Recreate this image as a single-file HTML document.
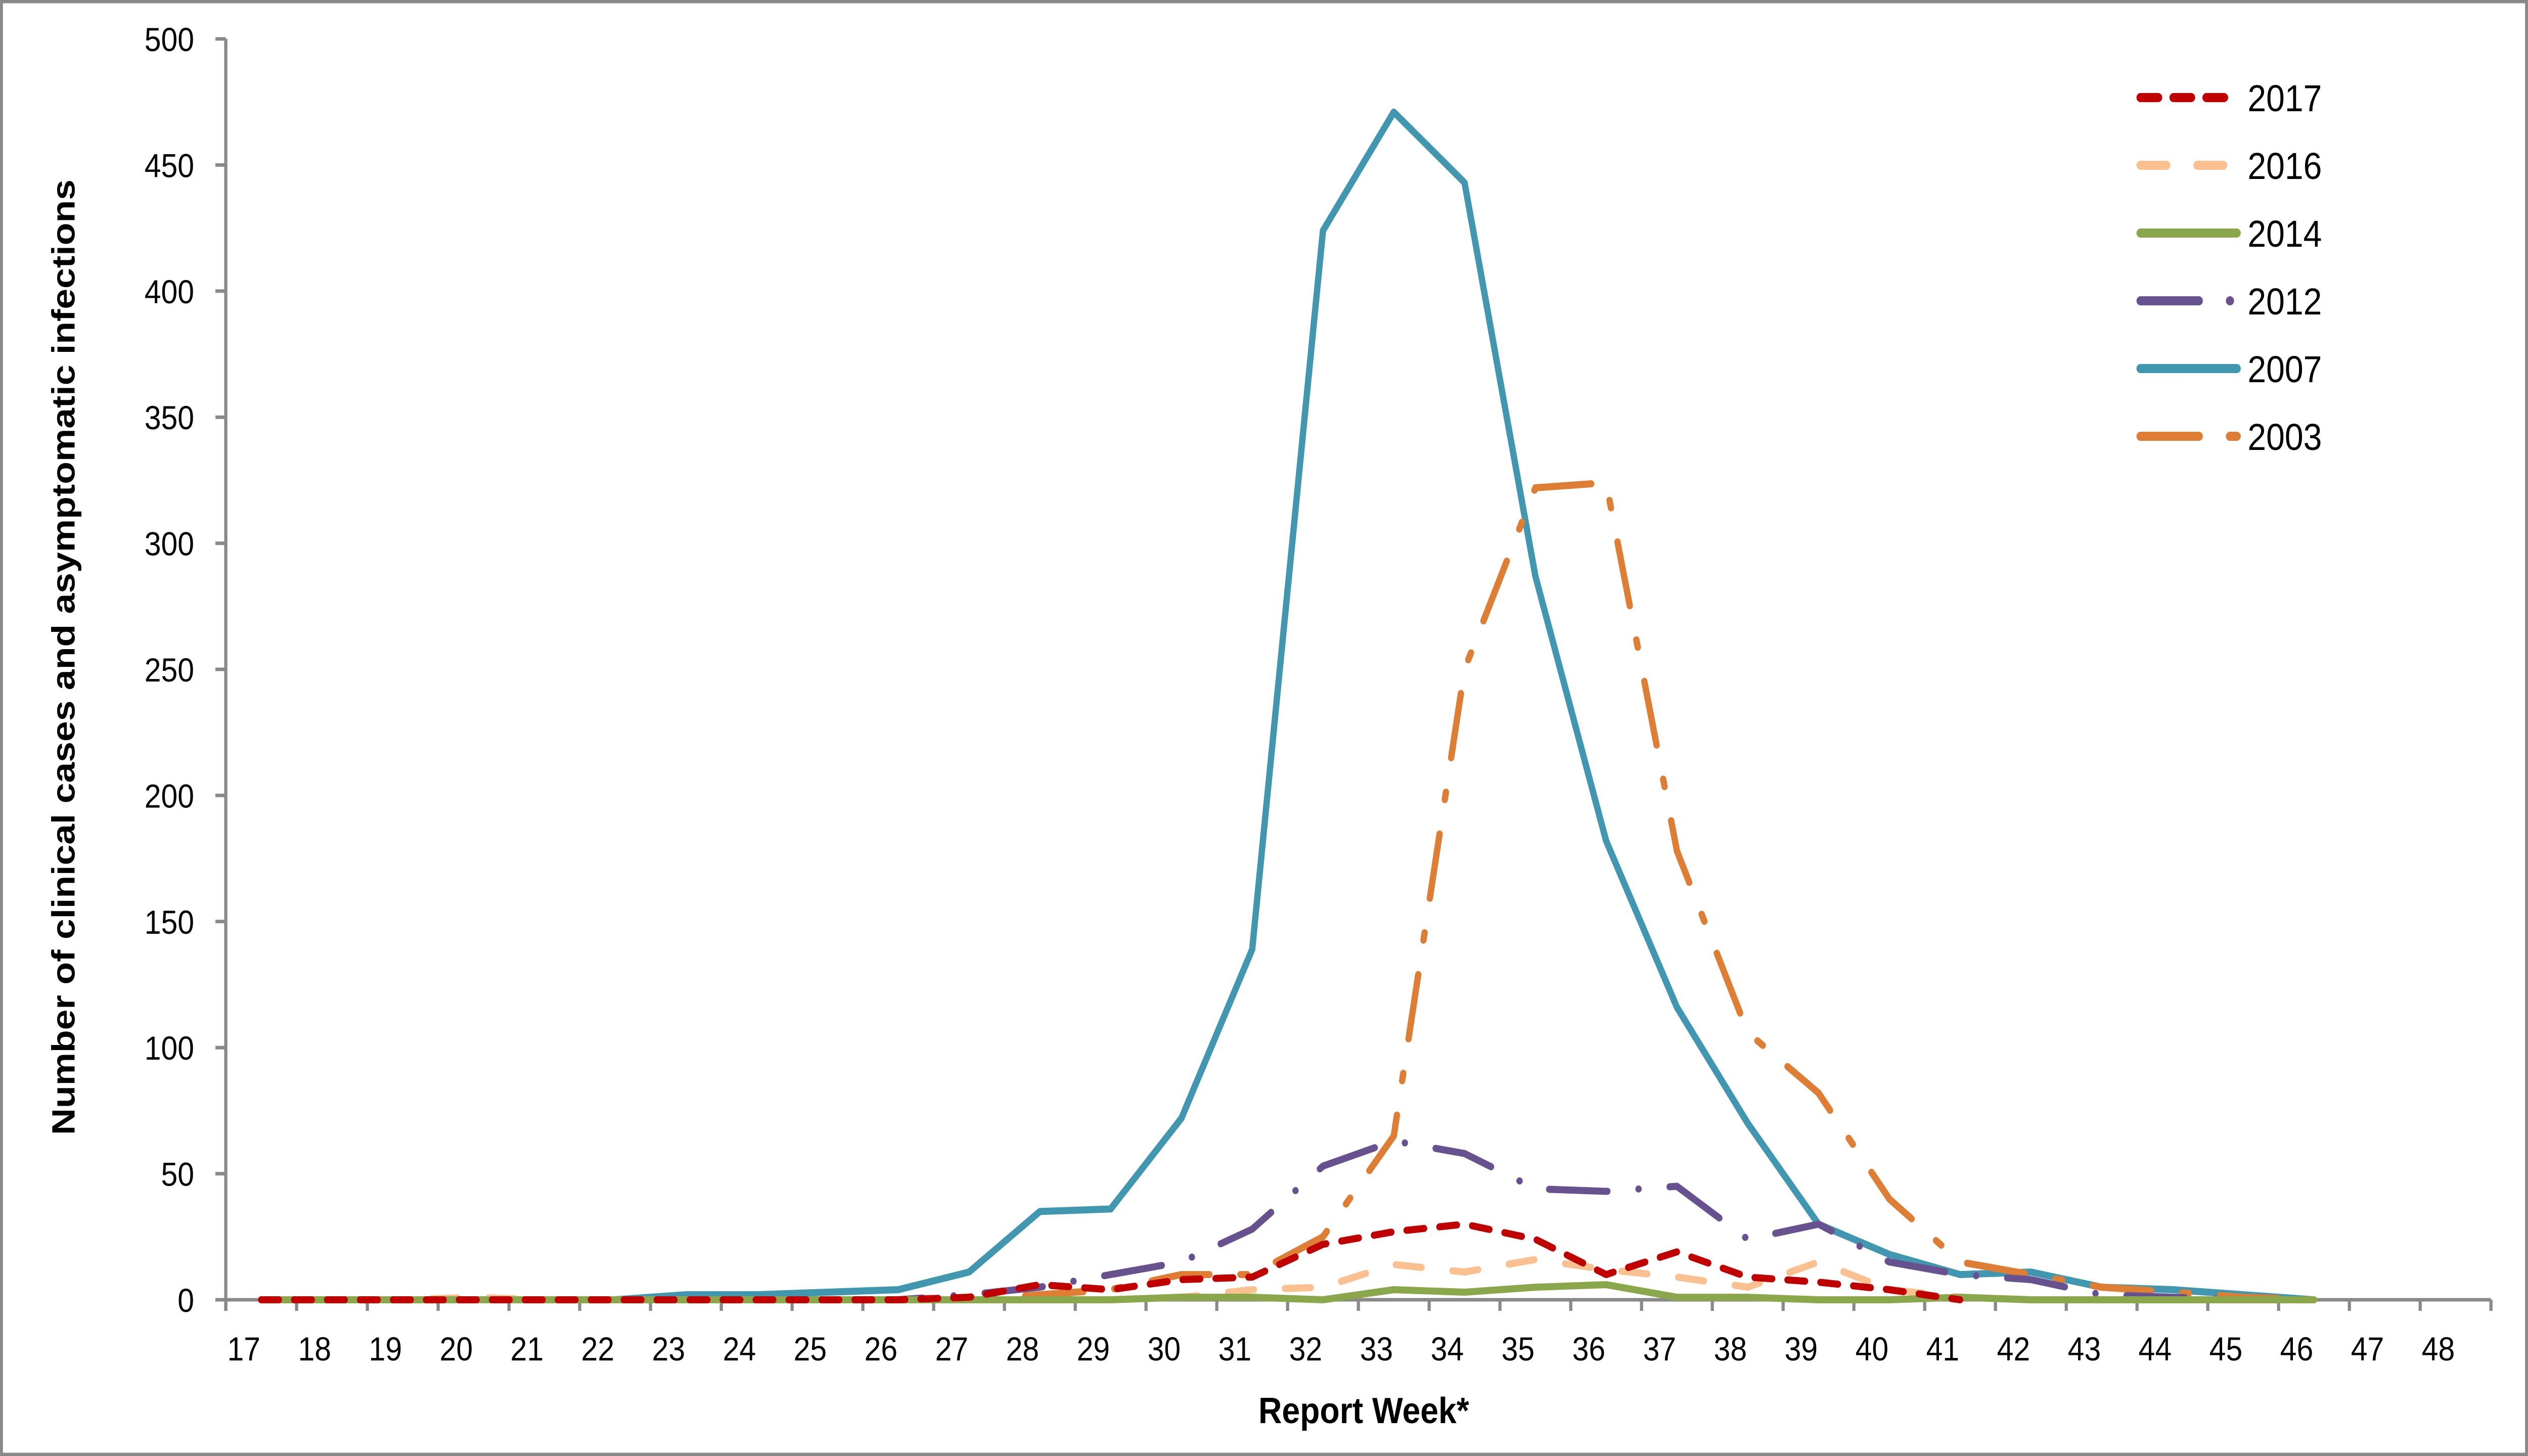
<!DOCTYPE html>
<html><head><meta charset="utf-8"><style>
html,body{margin:0;padding:0;background:#fff;overflow:hidden;width:100%;height:100%;}
svg{display:block;font-family:"Liberation Sans",sans-serif;width:100vw;height:100vh;}
</style></head><body>
<svg id="chart" viewBox="0 0 5598 2880" preserveAspectRatio="none" xmlns="http://www.w3.org/2000/svg">
<rect x="3" y="3" width="5592" height="2874" fill="#fff" stroke="#898989" stroke-width="7"/>
<g id="grid"></g>
<g id="series"></g>
<g id="legend"></g>
<text transform="translate(165,1300) rotate(-90)" text-anchor="middle" font-weight="bold" font-size="72" textLength="1890" lengthAdjust="spacingAndGlyphs">Number of clinical cases and asymptomatic infections</text>
<text x="3020" y="2815" text-anchor="middle" font-weight="bold" font-size="72">Report Week*</text>
</svg>
<script>
const weeks = [17,18,19,20,21,22,23,24,25,26,27,28,29,30,31,32,33,34,35,36,37,38,39,40,41,42,43,44,45,46,47,48];
const yTicks = [0,50,100,150,200,250,300,350,400,450,500];
const s2007 = [0,0,0,0,0,0,2,2,3,4,11,35,36,72,139,424,471,443,287,182,116,70,30,18,10,11,5,4,2,0];
const s2003 = [0,0,0,0,0,0,0,0,0,0,0,2,4,10,10,25,65,250,322,324,178,106,82,40,15,10,5,3,1,0];
const s2012 = [0,0,0,0,0,0,0,0,0,0,2,5,10,15,28,53,63,58,44,43,45,24,30,15,10,8,2,1,0,0];
const s2016 = [0,0,0,1,0,0,0,0,0,0,0,0,0,1,4,5,14,11,16,12,9,5,15,4,1,0,0,0,0,0];
const s2014 = [0,0,0,0,0,0,0,0,0,0,0,0,0,1,1,0,4,3,5,6,1,1,0,0,1,0,0,0,0,0];
const s2017 = [0,0,0,0,0,0,0,0,0,0,1,6,4,8,9,22,27,30,24,10,19,9,7,4,0];

const NS="http://www.w3.org/2000/svg";
const X0=500, X1=5516, Y0=2571, Y1=77, YMAX=500;
const bw=(X1-X0)/weeks.length;
function xScale(i){return X0+bw*(i+0.5);}
function yScale(v){return Y0-(v/YMAX)*(Y0-Y1);}
function mk(tag,attrs,parent){const e=document.createElementNS(NS,tag);for(const k in attrs)e.setAttribute(k,attrs[k]);parent.appendChild(e);return e;}
const grid=document.getElementById('grid');
const ax=mk('line',{x1:X0,y1:Y1,x2:X0,y2:Y0+22,stroke:'#898989','stroke-width':7},grid);


const bx=mk('line',{x1:X0-23,y1:Y0,x2:X1,y2:Y0,stroke:'#898989','stroke-width':7},grid);


yTicks.forEach(v=>{
  const y=yScale(v);
  const t=mk('line',{x1:X0-23,y1:y,x2:X0,y2:y,stroke:'#898989','stroke-width':7},grid);
  
  
  const l=mk('text',{x:430,y:y+24,'text-anchor':'end','font-size':66},grid);
  
  
  l.textContent=v;
});
for(let i=0;i<=weeks.length;i++){
  const x=X0+bw*i;
  const t=mk('line',{x1:x,y1:Y0,x2:x,y2:Y0+22,stroke:'#898989','stroke-width':7},grid);
  
  
}
weeks.forEach((w,i)=>{
  const l=mk('text',{x:X0+bw*i+40,y:2691,'text-anchor':'middle','font-size':66},grid);
  
  
  l.textContent=w;
});
const series=[
  {name:'2007',data:s2007,color:'#4197B0',dash:'none'},
  {name:'2003',data:s2003,color:'#DD7E34',dash:'129,69,15,69'},
  {name:'2012',data:s2012,color:'#68518F',dash:'129,69,0.1,69'},
  {name:'2016',data:s2016,color:'#FAC090',dash:'57,69'},
  {name:'2014',data:s2014,color:'#8AA74C',dash:'none'},
  {name:'2017',data:s2017,color:'#C00000',dash:'39,34'}
];
const sg=document.getElementById('series');
series.forEach(s=>{
  const pts=s.data.map((v,i)=>xScale(i).toFixed(1)+','+yScale(v).toFixed(1)).join(' ');
  const p=mk('polyline',{points:pts,fill:'none',stroke:s.color,'stroke-width':14,'stroke-linecap':'round','stroke-linejoin':'round','stroke-dasharray':s.dash},sg);
  
  
});
const legendOrder=['2017','2016','2014','2012','2007','2003'];
const lg=document.getElementById('legend');
legendOrder.forEach((n,k)=>{
  const s=series.find(q=>q.name===n);
  const y=193+k*134;
  const g=mk('g',{},lg);
  
  
  mk('line',{x1:4740,y1:y,x2:4953,y2:y,stroke:s.color,'stroke-width':18,'stroke-linecap':'round','stroke-dasharray':s.dash},g);
  const t=mk('text',{x:4977,y:y+27,'font-size':74},g);
  t.textContent=n;
});
</script>
</body></html>
